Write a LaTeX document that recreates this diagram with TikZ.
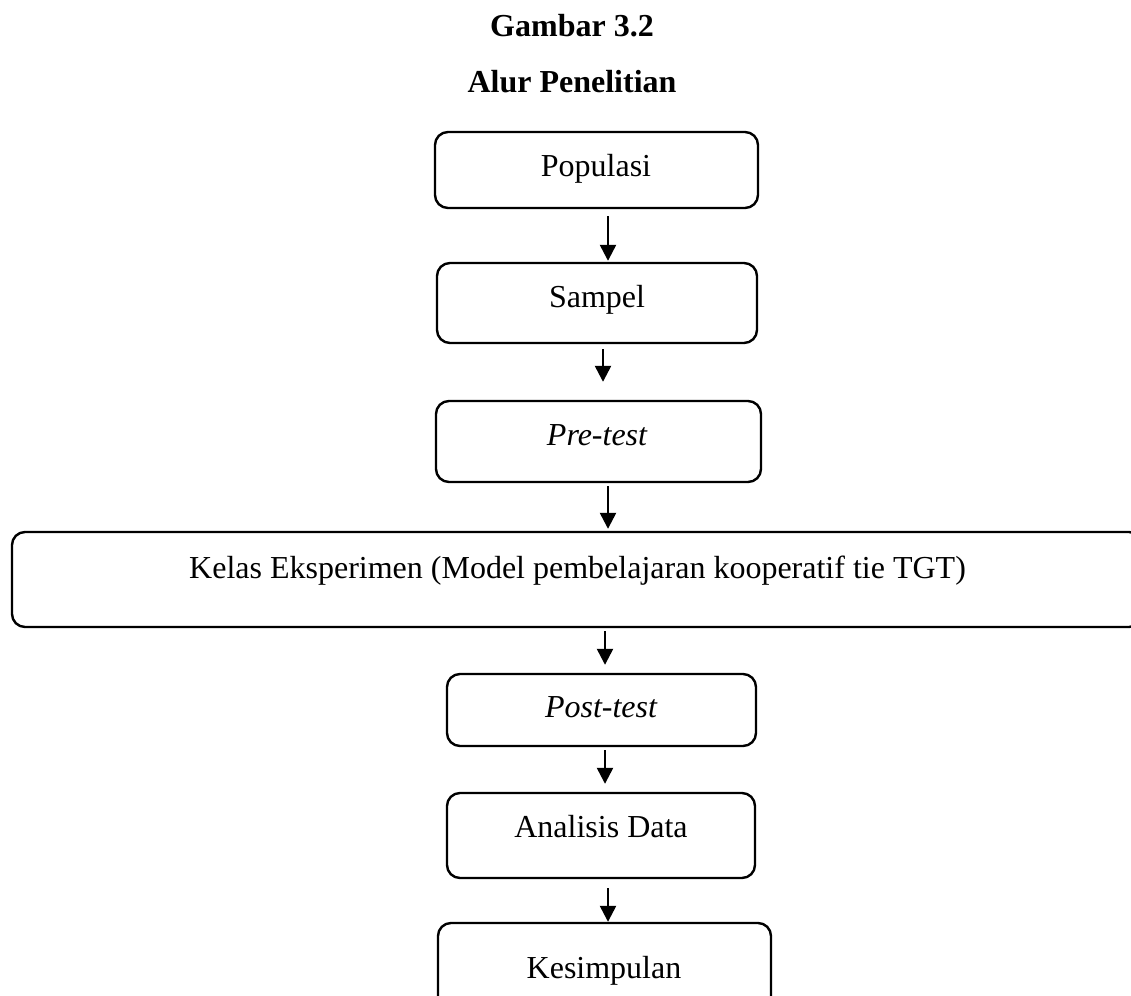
\documentclass[tikz,border=0pt]{standalone}
\usepackage{fontspec}
\setmainfont{Liberation Serif}
\usetikzlibrary{arrows.meta}
\begin{document}
\begin{tikzpicture}[x=1pt,y=-1pt,
 box/.style={draw, line width=2.4pt, rounded corners=13pt, inner sep=0pt},
 txt/.style={anchor=base, font=\fontsize{32}{38}\selectfont, inner sep=0pt},
 ttl/.style={anchor=base, font=\fontsize{32}{38}\selectfont\bfseries, inner sep=0pt},
 arr/.style={line width=2.4pt, -{Triangle[length=16pt,width=16pt]}}]
\useasboundingbox (0,0) rectangle (1131,995);
\clip (0,0) rectangle (1131,995);
% titles
\node[ttl] (t1) at (572,37) {Gambar 3.2};
\node[ttl] (t2) at (572,93) {Alur Penelitian};
% boxes
\node[box, minimum width=323pt, minimum height=76pt] (pop) at (596.5,170) {};
\node[box, minimum width=320pt, minimum height=80pt] (sam) at (597,303) {};
\node[box, minimum width=325pt, minimum height=81pt] (pre) at (598.5,441.5) {};
\node[box, minimum width=1130pt, minimum height=95pt] (kel) at (577,579.5) {};
\node[box, minimum width=309pt, minimum height=72pt] (post) at (601.5,710) {};
\node[box, minimum width=308pt, minimum height=85pt] (ana) at (601,835.5) {};
\node[box, minimum width=333pt, minimum height=87pt] (kes) at (604.5,966.5) {};
% texts
\node[txt] (popT) at (596,176) {Populasi};
\node[txt] (samT) at (597,307) {Sampel};
\node[txt] (preT) at (597,445) {\itshape Pre-test};
\node[txt] (kelT) at (577.5,578) {Kelas Eksperimen (Model pembelajaran kooperatif tie TGT)};
\node[txt] (postT) at (601,717) {\itshape Post-test};
\node[txt] (anaT) at (601,837) {Analisis Data};
\node[txt] (kesT) at (604,978) {Kesimpulan};
% arrow columns
\coordinate (xa) at (608,0);
\coordinate (xb) at (603,0);
\coordinate (xc) at (605,0);
\draw[arr, shorten <=7pt, shorten >=1pt] (pop.south -| xa) -- (sam.north -| xa);
\draw[arr, shorten <=5pt, shorten >=18pt] (sam.south -| xb) -- (pre.north -| xb);
\draw[arr, shorten <=3pt, shorten >=2pt] (pre.south -| xa) -- (kel.north -| xa);
\draw[arr, shorten <=3pt, shorten >=8pt] (kel.south -| xc) -- (post.north -| xc);
\draw[arr, shorten <=3pt, shorten >=8pt] (post.south -| xc) -- (ana.north -| xc);
\draw[arr, shorten <=9pt, shorten >=0pt] (ana.south -| xa) -- (kes.north -| xa);
\end{tikzpicture}
\end{document}
